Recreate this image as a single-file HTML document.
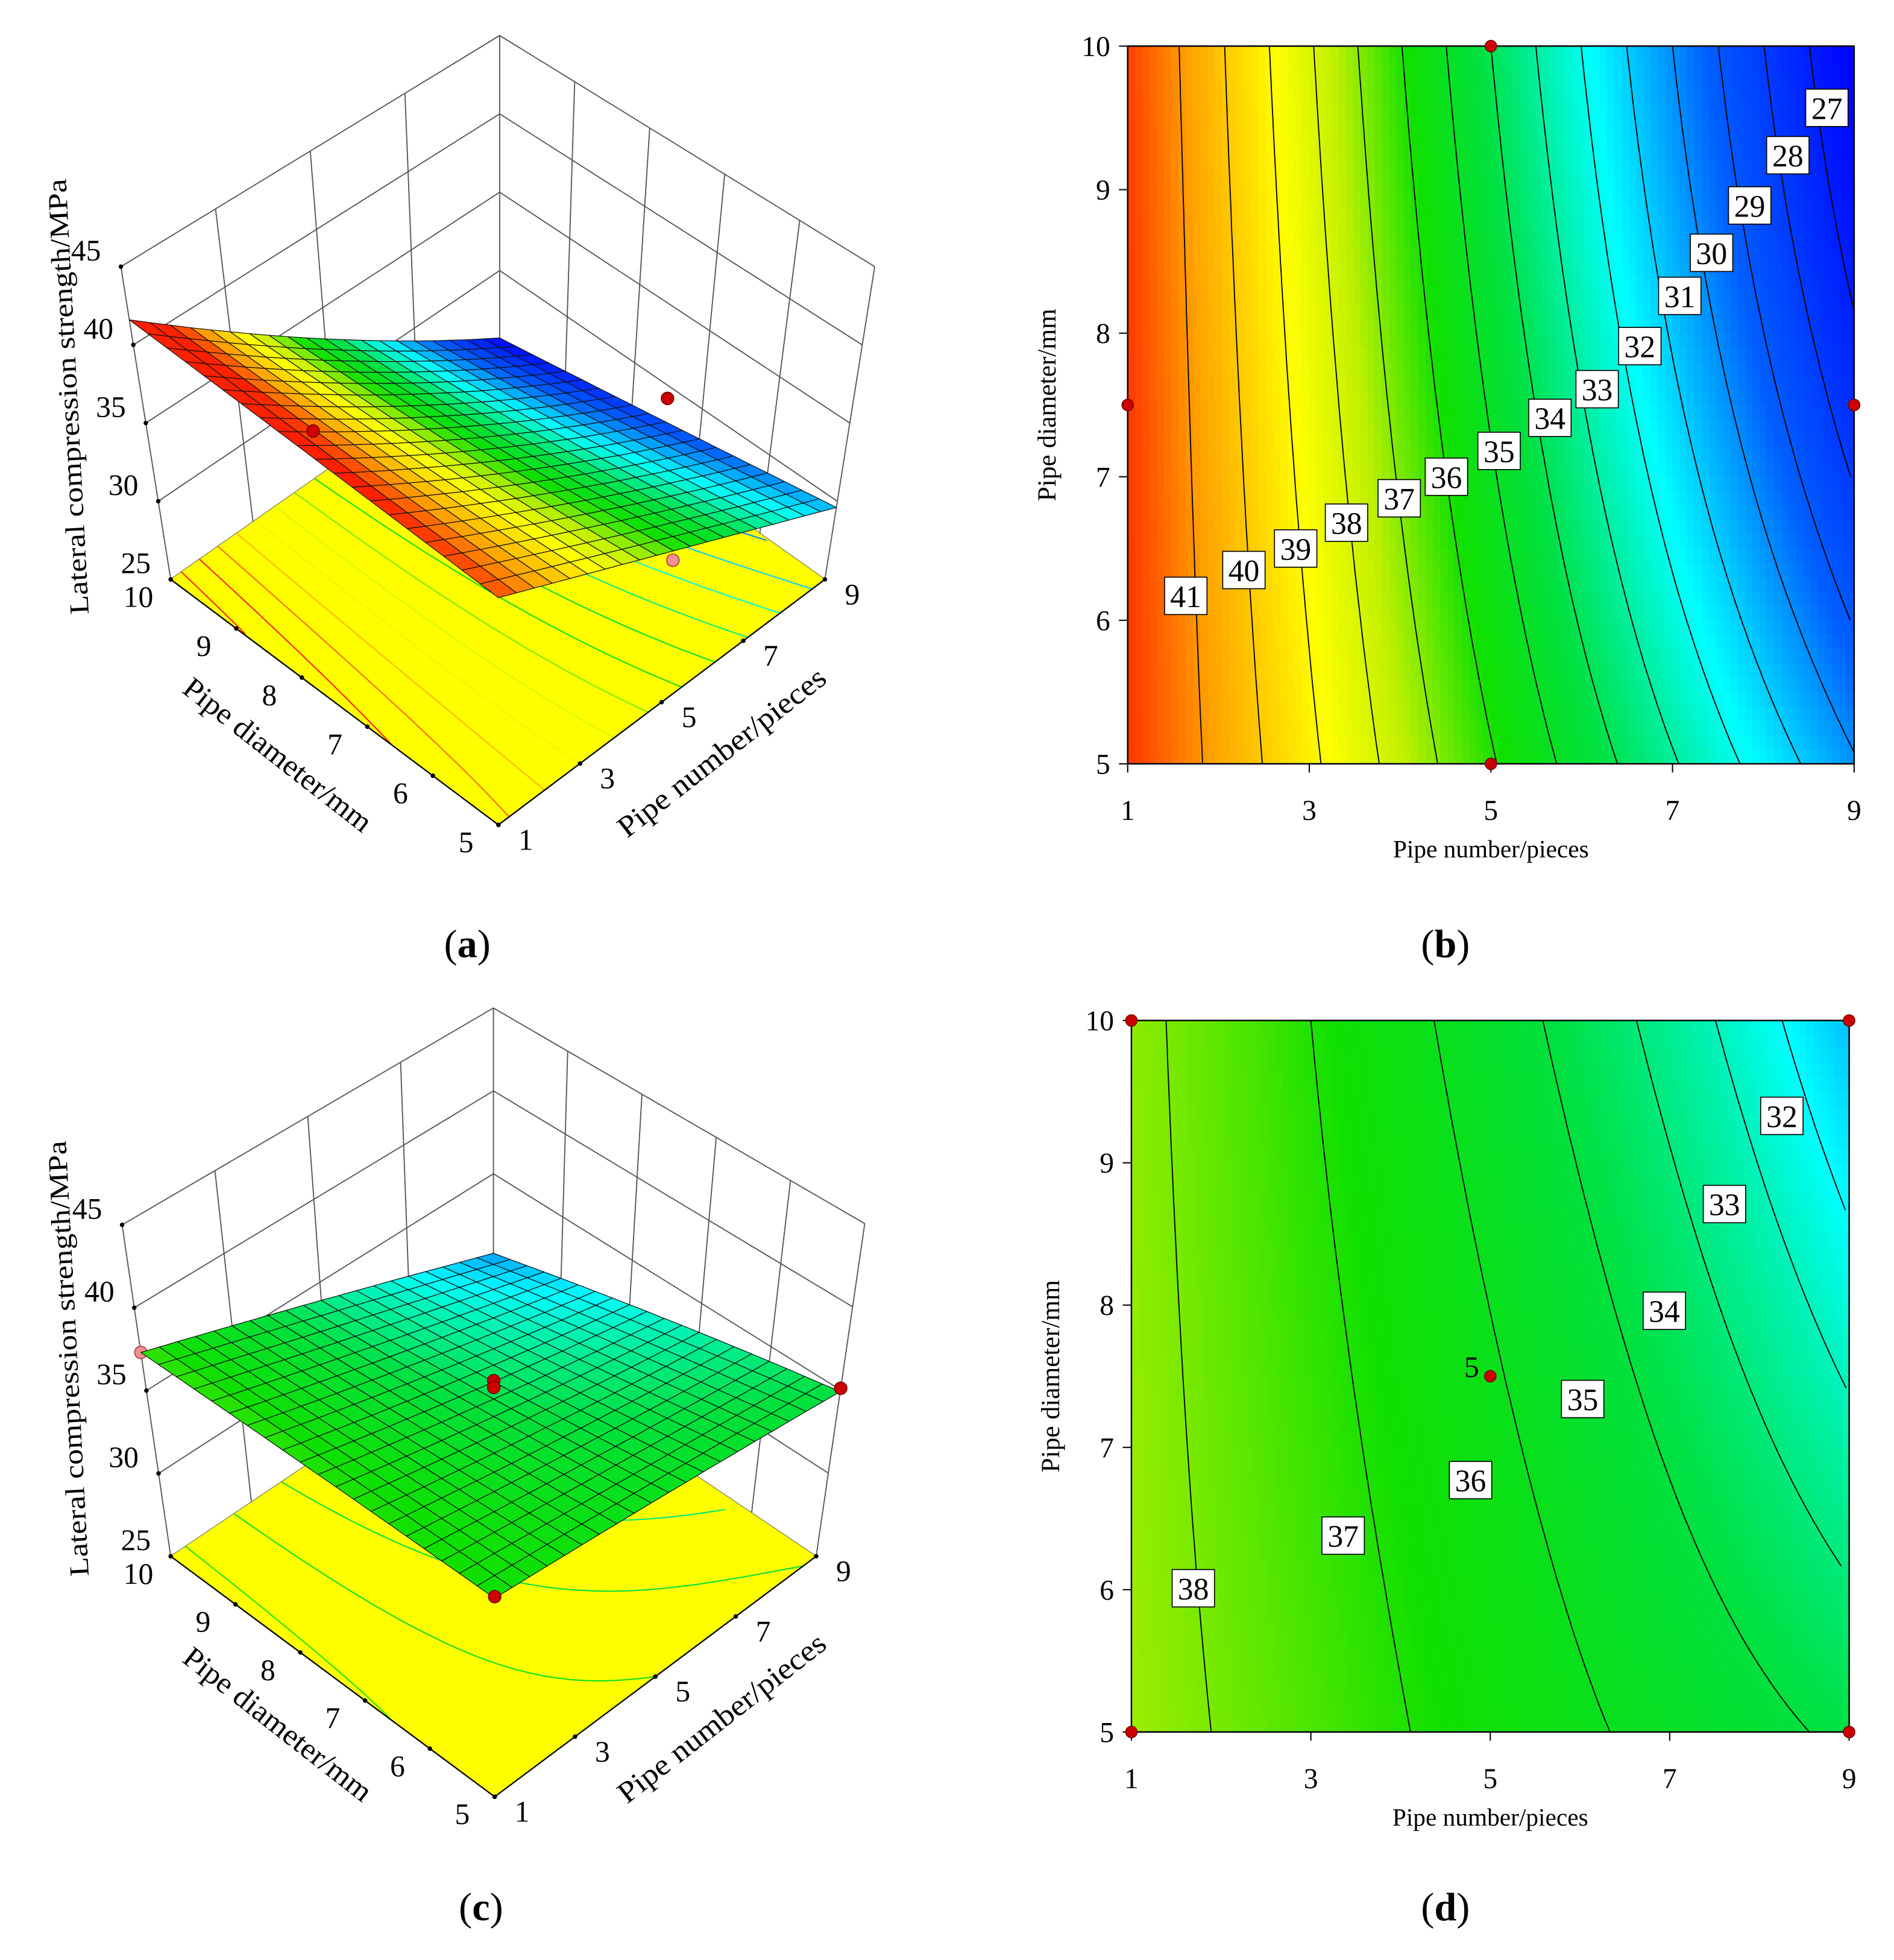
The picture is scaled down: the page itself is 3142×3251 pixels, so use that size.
<!DOCTYPE html>
<html><head><meta charset="utf-8"><title>Response surfaces</title>
<style>
html,body{margin:0;padding:0;background:#fff;}
svg{display:block;font-family:"Liberation Serif",serif;}
</style></head>
<body>
<svg id="fig" xmlns="http://www.w3.org/2000/svg" width="3142" height="3251" viewBox="0 0 1520 1573" preserveAspectRatio="none">
<rect x="0" y="0" width="1520" height="1573" fill="#fff"/>
<g id="pa"></g>
<g id="pb"></g>
<g id="pc"></g>
<g id="pd"></g>
<text x="375" y="768" font-size="32" text-anchor="middle">(<tspan font-weight="bold">a</tspan>)</text>
<text x="1160" y="768" font-size="32" text-anchor="middle">(<tspan font-weight="bold">b</tspan>)</text>
<text x="386" y="1541" font-size="32" text-anchor="middle">(<tspan font-weight="bold">c</tspan>)</text>
<text x="1160" y="1541" font-size="32" text-anchor="middle">(<tspan font-weight="bold">d</tspan>)</text>
</svg>
<script>
// ===== data =====
const pipeNumbers=[1,3,5,7,9];
const pipeDiameters=[5,6,7,8,9,10];
const zTicks=[25,30,35,40,45];
// panel a surface (rows: diameter 5,7.5,10 ; cols: number 1,5,9)
const aNum=[1,5,9];
const aDia=[5,7.5,10];
const aZ=[[39.3,34.6,29.6],[40.4,33.6,27.7],[41.6,33.0,25.7]];
const aFloorLevels=[26,27,28,29,30,31,32,33,34,35,36,37,38,39,40,41];
const aPointsRed=[[1,7.5,42.2],[9,7.5,29.2]];
const aPointsPink=[[5,5,34.0]];
// panel b contour
const bNum=[1,3,5,7,9];
const bDia=[5,7.5,10];
const bZ=[[42.2,39.2,36.1,33.1,30.1],[42.2,38.6,34.9,31.2,27.5],[42.1,38.1,34.0,30.0,26.0]];
const bLevels=[26,27,28,29,30,31,32,33,34,35,36,37,38,39,40,41];
const bLabelVals=[41,40,39,38,37,36,35,34,33,32,31,30,29,28,27];
const bLabelX=[1.64,2.28,2.85,3.41,3.99,4.51,5.09,5.65,6.17,6.64,7.08,7.43,7.85,8.27,8.70];
const bLabelY=[6.17,6.35,6.50,6.68,6.85,7.00,7.18,7.41,7.61,7.91,8.26,8.56,8.89,9.24,9.57];
const bPointsX=[1,5,5,9];
const bPointsY=[7.5,10,5,7.5];
// panel c surface
const cNum=[1,5,9];
const cDia=[5,7.5,10];
const cZ=[[36.8,36.0,34.9],[37.1,34.8,32.8],[37.3,33.9,30.2]];
const cFloorLevels=[31,32,33,34,35,36,37];
const cPointsRed=[[9,5,35.1],[1,5,36.9],[5,7.5,35.9],[5,7.5,35.5]];
const cPointsPink=[[1,10,37.3]];
// panel d contour
const dNum=[1,3,5,7,9];
const dDia=[5,7.5,10];
const dZ=[[38.4,37.5,36.6,35.7,34.8],[38.3,37.25,36.1,34.7,32.9],[38.2,37.0,35.5,33.6,30.8]];
const dLevels=[32,33,34,35,36,37,38];
const dLabelVals=[38,37,36,35,34,33,32];
const dLabelX=[1.69,3.36,4.78,6.03,6.94,7.61,8.25];
const dLabelY=[6.01,6.38,6.77,7.34,7.96,8.71,9.33];
const dPointsX=[1,9,1,9,5];
const dPointsY=[10,10,5,5,7.5];

// ===== helpers =====
const NS='http://www.w3.org/2000/svg';
function mk(parent,tag,attrs){const e=document.createElementNS(NS,tag);for(const k in attrs)e.setAttribute(k,attrs[k]);parent.appendChild(e);return e;}
const stops=[[0,[0,0,255]],[0.2,[0,96,255]],[0.35,[0,255,255]],[0.5,[0,224,64]],[0.6,[16,224,0]],[0.7,[192,240,0]],[0.78,[255,255,0]],[0.9,[255,160,0]],[1,[255,32,0]]];
function cmap(t){t=Math.max(0,Math.min(1,t));for(let i=1;i<stops.length;i++){if(t<=stops[i][0]){const a=stops[i-1],b=stops[i];const f=(t-a[0])/(b[0]-a[0]);const c=a[1].map((v,k)=>Math.round(v+(b[1][k]-v)*f));return 'rgb('+c.join(',')+')';}}return 'rgb(255,32,0)';}
function lag(xs,vals,x){let s=0;for(let i=0;i<xs.length;i++){let p=1;for(let j=0;j<xs.length;j++){if(j!==i)p*=(x-xs[j])/(xs[i]-xs[j]);}s+=vals[i]*p;}return s;}
function surf(xs,ys,Z,x,y){const col=Z.map(r=>lag(xs,r,x));return lag(ys,col,y);}
function contourSegs(fn,level,nx,ny){
  const segs=[];let cur=[];
  for(let j=0;j<=ny;j++){const y=5+5*j/ny;let found=null;let prev=fn(1,y);
    for(let i=1;i<=nx;i++){const x=1+8*i/nx;const v=fn(x,y);if((prev-level)*(v-level)<=0&&prev!==v){const xp=1+8*(i-1)/nx;found=xp+(x-xp)*(prev-level)/(prev-v);break;}prev=v;}
    if(found!==null)cur.push([found,y]);else if(cur.length){segs.push(cur);cur=[];}}
  if(cur.length)segs.push(cur);return segs;}

// ===== contour panel =====
function contourPanel(g,o){
  const sx=x=>o.x0+(x-1)/8*(o.x1-o.x0), sy=d=>o.y1-(d-5)/5*(o.y1-o.y0);
  const fn=(x,d)=>surf(o.xs,o.ys,o.Z,x,d);
  const fill=mk(g,'g',{'shape-rendering':'crispEdges'});
  
  
  const NX=100,NY=50,w=(o.x1-o.x0)/NX,h=(o.y1-o.y0)/NY;
  for(let i=0;i<NX;i++)for(let j=0;j<NY;j++){
    const x=1+8*(i+0.5)/NX,d=10-5*(j+0.5)/NY;
    mk(fill,'rect',{x:(o.x0+i*w).toFixed(2),y:(o.y0+j*h).toFixed(2),width:(w+0.6).toFixed(2),height:(h+0.6).toFixed(2),fill:cmap((fn(x,d)-o.cmin)/(o.cmax-o.cmin))});
  }
  const lines=mk(g,'g',{fill:'none',stroke:'#000','stroke-width':0.9});
  
  
  o.levels.forEach(L=>{contourSegs(fn,L,240,60).forEach(s=>{
    const p=mk(lines,'polyline',{points:s.map(q=>sx(q[0]).toFixed(1)+','+sy(q[1]).toFixed(1)).join(' ')});
    
    
  });});
  const fr=mk(g,'rect',{x:o.x0,y:o.y0,width:o.x1-o.x0,height:o.y1-o.y0,fill:'none',stroke:'#000','stroke-width':1.2});
  
  
  pipeNumbers.forEach(n=>{
    const t=mk(g,'line',{x1:sx(n),x2:sx(n),y1:o.y1,y2:o.y1+7,stroke:'#000','stroke-width':1});
    
    
    const tx=mk(g,'text',{x:sx(n),y:o.y1+45,'font-size':23,'text-anchor':'middle'});tx.textContent=n;
    
    
  });
  pipeDiameters.forEach(d=>{
    const t=mk(g,'line',{x1:o.x0-7,x2:o.x0,y1:sy(d),y2:sy(d),stroke:'#000','stroke-width':1});
    
    
    const tx=mk(g,'text',{x:o.x0-14,y:sy(d)+8,'font-size':23,'text-anchor':'end'});tx.textContent=d;
    
    
  });
  const xl=mk(g,'text',{x:(o.x0+o.x1)/2,y:o.y1+75,'font-size':20,'text-anchor':'middle'});xl.textContent='Pipe number/pieces';
  
  
  const yc=(o.y0+o.y1)/2;
  const yl=mk(g,'text',{x:o.x0-58,y:yc,'font-size':21,'text-anchor':'middle',transform:'rotate(-90 '+(o.x0-58)+' '+yc+')'});yl.textContent='Pipe diameter/mm';
  
  
  o.labVals.forEach((v,k)=>{
    const cx=sx(o.labX[k]),cy=sy(o.labY[k]);
    const lg=mk(g,'g',{});
    
    
    mk(lg,'rect',{x:cx-17,y:cy-15,width:34,height:30,fill:'#fff',stroke:'#000','stroke-width':0.8});
    const t=mk(lg,'text',{x:cx,y:cy+9,'font-size':25,'text-anchor':'middle'});t.textContent=v;
  });
  o.px.forEach((x,k)=>{
    const c=mk(g,'circle',{cx:sx(x),cy:sy(o.py[k]),r:4.6,fill:'#cc0000',stroke:'#700','stroke-width':0.8});
    
    
  });
}

// ===== 3D panel =====
function surfacePanel(g,o){
  const fnv=(x,d)=>surf(o.xs,o.ys,o.Z,x,d);
  function bil(P,u,v){return [P.F[0]*(1-u)*(1-v)+P.R[0]*u*(1-v)+P.B[0]*u*v+P.L[0]*(1-u)*v, P.F[1]*(1-u)*(1-v)+P.R[1]*u*(1-v)+P.B[1]*u*v+P.L[1]*(1-u)*v];}
  function proj(u,v,w){const f=bil(o.floor,u,v),vv=bil(o.vert,u,v);return [f[0]+w*vv[0],f[1]+w*vv[1]];}
  const pd=(x,d,z)=>proj((x-1)/8,(d-5)/5,(z-25)/20);
  const pt=p=>p[0].toFixed(1)+','+p[1].toFixed(1);
  const walls=mk(g,'g',{stroke:'#555','stroke-width':0.9,fill:'none'});
  
  
  zTicks.forEach(z=>{const w=(z-25)/20;
    mk(walls,'polyline',{points:[proj(0,1,w),proj(1,1,w),proj(1,0,w)].map(pt).join(' ')});});
  [0,0.25,0.5,0.75,1].forEach(u=>mk(walls,'line',{x1:proj(u,1,0)[0],y1:proj(u,1,0)[1],x2:proj(u,1,1)[0],y2:proj(u,1,1)[1]}));
  [0,0.2,0.4,0.6,0.8].forEach(v=>mk(walls,'line',{x1:proj(1,v,0)[0],y1:proj(1,v,0)[1],x2:proj(1,v,1)[0],y2:proj(1,v,1)[1]}));
  const fl=mk(g,'polygon',{points:[proj(0,0,0),proj(1,0,0),proj(1,1,0),proj(0,1,0)].map(pt).join(' '),fill:'#ffff00',stroke:'none'});
  
  
  const fc=mk(g,'g',{fill:'none','stroke-width':1});
  
  
  o.levels.forEach(L=>{contourSegs(fnv,L,160,40).forEach(s=>{
    const p=mk(fc,'polyline',{points:s.map(q=>pt(pd(q[0],q[1],25))).join(' '),stroke:cmap((L-o.cmin)/(o.cmax-o.cmin))});
    
    
  });});
  const ed=mk(g,'polyline',{points:[proj(0,1,0),proj(0,0,0),proj(1,0,0)].map(pt).join(' '),fill:'none',stroke:'#000','stroke-width':1.1});
  
  
  pipeDiameters.forEach(d=>{const p=pd(1,d,25);
    const c=mk(g,'circle',{cx:p[0],cy:p[1],r:1.8,fill:'#000'});
    
    
    const t=mk(g,'text',{x:p[0]-26,y:p[1]+22,'font-size':24,'text-anchor':'middle'});t.textContent=d;
    
    });
  pipeNumbers.forEach(n=>{const p=pd(n,5,25);
    const c=mk(g,'circle',{cx:p[0],cy:p[1],r:1.8,fill:'#000'});
    
    
    const t=mk(g,'text',{x:p[0]+22,y:p[1]+20,'font-size':24,'text-anchor':'middle'});t.textContent=n;
    
    });
  zTicks.forEach(z=>{const p=pd(1,10,z);
    const c=mk(g,'circle',{cx:p[0],cy:p[1],r:1.8,fill:'#000'});
    
    
    const t=mk(g,'text',{x:p[0]-28,y:p[1]-5,'font-size':24,'text-anchor':'middle'});t.textContent=z;
    
    });
  o.pink.forEach(q=>{const p=pd(q[0],q[1],q[2]);
    const c=mk(g,'circle',{cx:p[0],cy:p[1],r:5,fill:'#f09090',stroke:'#a04040','stroke-width':0.8});
    
    });
  const sg=mk(g,'g',{stroke:'#111','stroke-width':0.6,'stroke-linejoin':'round'});
  
  
  const N=20,cells=[];
  for(let i=0;i<N;i++)for(let j=0;j<N;j++)cells.push([i,j]);
  cells.sort((a,b)=>(b[0]+b[1])-(a[0]+a[1]));
  cells.forEach(([i,j])=>{
    const corners=[[i,j],[i+1,j],[i+1,j+1],[i,j+1]].map(([a,b])=>{const x=1+8*a/N,d=5+5*b/N;return [x,d,fnv(x,d)];});
    const zc=fnv(1+8*(i+0.5)/N,5+5*(j+0.5)/N);
    mk(sg,'polygon',{points:corners.map(c=>pt(pd(c[0],c[1],c[2]))).join(' '),fill:cmap((zc-o.cmin)/(o.cmax-o.cmin))});
  });
  o.red.forEach(q=>{const p=pd(q[0],q[1],q[2]);
    const c=mk(g,'circle',{cx:p[0],cy:p[1],r:5,fill:'#cc0000',stroke:'#700','stroke-width':0.8});
    
    });
  const zl=mk(g,'text',{x:o.zt[0],y:o.zt[1],'font-size':22,'text-anchor':'middle',textLength:350,lengthAdjust:'spacingAndGlyphs',transform:'rotate(-93 '+o.zt[0]+' '+o.zt[1]+')'});zl.textContent='Lateral compression strength/MPa';
  
  
  const dl=mk(g,'text',{x:o.dt[0],y:o.dt[1],'font-size':24,'text-anchor':'middle',textLength:185,lengthAdjust:'spacingAndGlyphs',transform:'rotate(38 '+o.dt[0]+' '+o.dt[1]+')'});dl.textContent='Pipe diameter/mm';
  
  
  const nl=mk(g,'text',{x:o.nt[0],y:o.nt[1],'font-size':24,'text-anchor':'middle',textLength:205,lengthAdjust:'spacingAndGlyphs',transform:'rotate(-38 '+o.nt[0]+' '+o.nt[1]+')'});nl.textContent='Pipe number/pieces';
  
  
}

surfacePanel(document.getElementById('pa'),{xs:aNum,ys:aDia,Z:aZ,cmin:25.7,cmax:39.8,levels:aFloorLevels,
  floor:{F:[400,662],R:[662,465],B:[401,280],L:[137,465]},vert:{F:[0,-255],R:[40,-251],B:[0,-251.5],L:[-40,-251]},
  red:aPointsRed,pink:aPointsPink,zt:[62,318],dt:[218,612],nt:[584,610]});
surfacePanel(document.getElementById('pc'),{xs:cNum,ys:cDia,Z:cZ,cmin:25.2,cmax:44.6,levels:cFloorLevels,
  floor:{F:[397,1442],R:[655,1249],B:[396,1075],L:[137,1249]},vert:{F:[0,-270],R:[39,-267],B:[0,-266],L:[-39,-266]},
  red:cPointsRed,pink:cPointsPink,zt:[62,1090],dt:[218,1390],nt:[584,1385]});
contourPanel(document.getElementById('pb'),{x0:905,x1:1488,y0:37,y1:613,xs:bNum,ys:bDia,Z:bZ,cmin:26,cmax:42.5,levels:bLevels,
  labVals:bLabelVals,labX:bLabelX,labY:bLabelY,px:bPointsX,py:bPointsY});
contourPanel(document.getElementById('pd'),{x0:908,x1:1484,y0:819,y1:1390,xs:dNum,ys:dDia,Z:dZ,cmin:25.2,cmax:44.6,levels:dLevels,
  labVals:dLabelVals,labX:dLabelX,labY:dLabelY,px:dPointsX,py:dPointsY});
(function(){const g=document.getElementById('pd');
  const t=mk(g,'text',{x:1181,y:1105,'font-size':24,'text-anchor':'middle'});t.textContent='5';
  
  })();
</script>
</body></html>
